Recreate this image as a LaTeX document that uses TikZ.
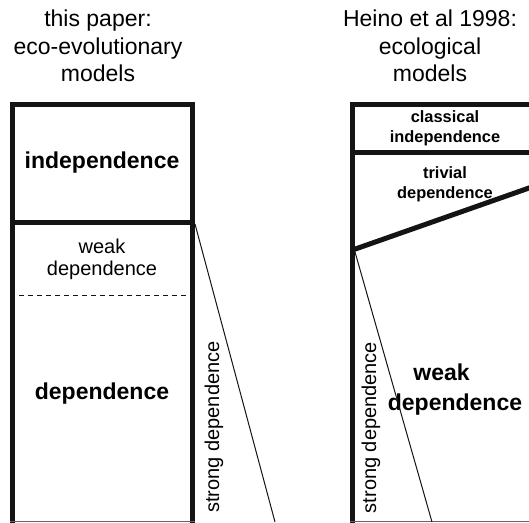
\documentclass[tikz,border=0pt]{standalone}
\usepackage{fontspec}
\setmainfont{Liberation Sans}
\usetikzlibrary{positioning, calc}
\definecolor{wallcolor}{RGB}{20,20,20}
\definecolor{basecolor}{RGB}{100,100,100}

\begin{document}
\begin{tikzpicture}[x=1pt, y=-1pt,
    wall/.style={line width=5pt, wallcolor, line join=miter},
    thinline/.style={line width=1pt, wallcolor},
    titletext/.style={align=center, inner sep=0pt, font=\fontsize{23}{27.5}\selectfont},
    plaintext/.style={align=center, inner sep=0pt, font=\fontsize{20}{22}\selectfont},
    boldtext/.style={inner sep=0pt, anchor=base, font=\fontsize{23}{26}\selectfont\bfseries},
    smallbold/.style={align=center, inner sep=0pt, font=\fontsize{16.4}{20}\selectfont\bfseries}]
    \useasboundingbox (0,0) rectangle (529,522);
    \clip (0,0) rectangle (529,522);

    % Titles
    \node[titletext] (titleL) at (98,46) {this paper:\\eco-evolutionary\\models};
    \node[titletext] (titleR) at (430,46) {Heino et al 1998:\\ecological\\models};

    % Left column: eco-evolutionary models
    \coordinate (L-tl) at (12.5,104.5);
    \coordinate (L-tr) at (192.5,104.5);
    \coordinate (L-ml) at (12.5,222);
    \coordinate (L-mr) at (192.5,222);
    \draw[wall] (12.5,530) -- (L-tl) -- (L-tr) -- (192.5,530);
    \draw[wall] (L-ml) -- (L-mr);
    \draw[basecolor, line width=1pt] (10,521.5) -- (195,521.5);
    \draw[thinline, dash pattern=on 5pt off 4pt] (19,295) -- (190,295);

    \node[boldtext] (indepL) at (102,168) {independence};
    \node[plaintext] (weakL) at (102,259) {weak\\dependence};
    \node[boldtext] (depL) at (102,399) {dependence};
    \node[plaintext, anchor=base, rotate=90] (strongL) at (219,427) {strong dependence};

    % Right column: ecological models
    \coordinate (R-tl) at (352.5,104.5);
    \coordinate (R-ml) at (352.5,152);
    \coordinate (R-kink) at (352.5,250);
    \draw[wall] (352.5,530) -- (R-tl) -- (540,104.5);
    \draw[wall] (R-ml) -- (540,152);
    \draw[wall, line cap=round] (R-kink) -- ($(R-kink)!1.1!(529,188)$);
    \draw[basecolor, line width=1pt] (350,521.5) -- (529,521.5);

    \node[smallbold] (classR) at (445,128) {classical\\independence};
    \node[smallbold] (trivR) at (445,184) {trivial\\dependence};
    \node[boldtext] (weakR) at (441.5,380) {weak};
    \node[boldtext] (wdepR) at (455,410) {dependence};
    \node[plaintext, anchor=base, rotate=90] (strongR) at (376,427.5) {strong dependence};

    % Strong dependence borders
    \coordinate (L-end) at (275,522);
    \coordinate (R-end) at (432,522);
    \draw[thinline] (195,224) -- (L-end);
    \draw[thinline] (355,252) -- (R-end);
\end{tikzpicture}
\end{document}
